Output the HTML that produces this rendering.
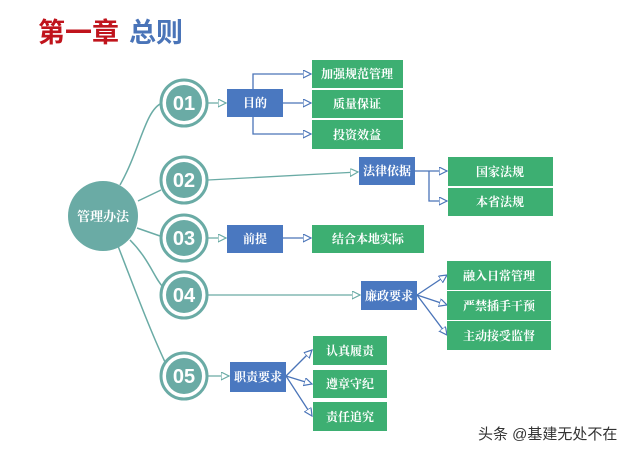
<!DOCTYPE html>
<html><head><meta charset="utf-8"><style>
body{margin:0;width:640px;height:453px;background:#fff;overflow:hidden}
svg{display:block}
text{font-family:"Liberation Serif","Noto Serif CJK SC",serif;font-weight:bold}
</style></head><body>
<svg width="640" height="453" viewBox="0 0 640 453">
<defs>
<marker id="a" markerWidth="10" markerHeight="10" refX="8" refY="4" orient="auto" markerUnits="userSpaceOnUse">
<path d="M0,0 L8,4 L0,8 Z" fill="#fff" stroke="#4a74b8" stroke-width="1.2"/></marker>
<marker id="t" markerWidth="10" markerHeight="10" refX="8" refY="4" orient="auto" markerUnits="userSpaceOnUse">
<path d="M0,0 L8,4 L0,8 Z" fill="#fff" stroke="#6aaba5" stroke-width="1.2"/></marker>
</defs>
<text x="38" y="42" font-family="'Liberation Sans','Noto Sans CJK SC',sans-serif" font-size="27" fill="#c0141c" style="font-family:'Liberation Sans','Noto Sans CJK SC',sans-serif">第一章</text>
<text x="129" y="42" font-size="27" fill="#4a74b8" style="font-family:'Liberation Sans','Noto Sans CJK SC',sans-serif">总则</text>
<g stroke="#6aaba5" stroke-width="1.5" fill="none">
<path d="M120,185 C140,150 145,110 162,103"/>
<path d="M138,201 L161,190"/>
<path d="M137,228 L160,236"/>
<path d="M130,240 C150,260 155,280 164,288"/>
<path d="M118,246 C135,290 150,330 165,362"/>
</g>
<g stroke="#6aaba5" stroke-width="1.3" fill="none">
<line x1="208" y1="103" x2="226" y2="103" marker-end="url(#t)"/>
<line x1="208" y1="180" x2="358" y2="172" marker-end="url(#t)"/>
<line x1="208" y1="238" x2="226" y2="238" marker-end="url(#t)"/>
<line x1="208" y1="295" x2="360" y2="295" marker-end="url(#t)"/>
<line x1="208" y1="376" x2="229" y2="376" marker-end="url(#t)"/>
</g>
<g stroke="#4a74b8" stroke-width="1.3" fill="none">
<path d="M253,89 V74 H311" marker-end="url(#a)"/>
<line x1="283" y1="103" x2="311" y2="103" marker-end="url(#a)"/>
<path d="M253,117 V134 H311" marker-end="url(#a)"/>
<line x1="415" y1="171" x2="447" y2="171" marker-end="url(#a)"/>
<path d="M429,171 V201 H447" marker-end="url(#a)"/>
<line x1="283" y1="238" x2="311" y2="238" marker-end="url(#a)"/>
<line x1="417" y1="295" x2="447" y2="275" marker-end="url(#a)"/>
<line x1="417" y1="295" x2="447" y2="305" marker-end="url(#a)"/>
<line x1="417" y1="295" x2="447" y2="335" marker-end="url(#a)"/>
<line x1="286" y1="376" x2="312" y2="350" marker-end="url(#a)"/>
<line x1="286" y1="376" x2="312" y2="384" marker-end="url(#a)"/>
<line x1="286" y1="376" x2="312" y2="416" marker-end="url(#a)"/>
</g>
<circle cx="103" cy="216" r="35" fill="#6aaba5"/>
<text x="103" y="221" font-size="13" fill="#fff" text-anchor="middle">管理办法</text>
<g font-size="20" fill="#fff" text-anchor="middle">
<g><circle cx="184" cy="103" r="23" fill="#fff" stroke="#6aaba5" stroke-width="3"/><circle cx="184" cy="103" r="18" fill="#6aaba5"/><text x="184" y="110" style="font-family:'Liberation Sans',sans-serif">01</text></g>
<g><circle cx="184" cy="180" r="23" fill="#fff" stroke="#6aaba5" stroke-width="3"/><circle cx="184" cy="180" r="18" fill="#6aaba5"/><text x="184" y="187" style="font-family:'Liberation Sans',sans-serif">02</text></g>
<g><circle cx="184" cy="238" r="23" fill="#fff" stroke="#6aaba5" stroke-width="3"/><circle cx="184" cy="238" r="18" fill="#6aaba5"/><text x="184" y="245" style="font-family:'Liberation Sans',sans-serif">03</text></g>
<g><circle cx="184" cy="295" r="23" fill="#fff" stroke="#6aaba5" stroke-width="3"/><circle cx="184" cy="295" r="18" fill="#6aaba5"/><text x="184" y="302" style="font-family:'Liberation Sans',sans-serif">04</text></g>
<g><circle cx="184" cy="376" r="23" fill="#fff" stroke="#6aaba5" stroke-width="3"/><circle cx="184" cy="376" r="18" fill="#6aaba5"/><text x="184" y="383" style="font-family:'Liberation Sans',sans-serif">05</text></g>
</g>
<g fill="#4a78c0">
<rect x="227" y="89" width="56" height="28"/>
<rect x="359" y="157" width="56" height="28"/>
<rect x="227" y="225" width="56" height="28"/>
<rect x="361" y="281" width="56" height="29"/>
<rect x="230" y="362" width="56" height="30"/>
</g>
<g fill="#3daf72">
<rect x="312" y="60" width="91" height="28"/>
<rect x="312" y="90" width="91" height="28"/>
<rect x="312" y="120" width="91" height="29"/>
<rect x="448" y="157" width="105" height="29"/>
<rect x="448" y="188" width="105" height="28"/>
<rect x="312" y="225" width="112" height="28"/>
<rect x="447" y="261" width="104" height="29"/>
<rect x="447" y="291" width="104" height="29"/>
<rect x="447" y="321" width="104" height="29"/>
<rect x="313" y="336" width="74" height="29"/>
<rect x="313" y="370" width="74" height="28"/>
<rect x="313" y="402" width="74" height="29"/>
</g>
<g font-size="12" fill="#fff" text-anchor="middle">
<text x="255" y="107">目的</text>
<text x="387" y="175">法律依据</text>
<text x="255" y="243">前提</text>
<text x="389" y="300">廉政要求</text>
<text x="258" y="381">职责要求</text>
<text x="357" y="78">加强规范管理</text>
<text x="357" y="108">质量保证</text>
<text x="357" y="139">投资效益</text>
<text x="500" y="176">国家法规</text>
<text x="500" y="206">本省法规</text>
<text x="368" y="243">结合本地实际</text>
<text x="499" y="280">融入日常管理</text>
<text x="499" y="310">严禁插手干预</text>
<text x="499" y="340">主动接受监督</text>
<text x="350" y="355">认真履责</text>
<text x="350" y="388">遵章守纪</text>
<text x="350" y="421">责任追究</text>
</g>
<text x="478" y="439" font-size="15" fill="#333" style="font-family:'Liberation Sans','Noto Sans CJK SC',sans-serif;font-weight:normal">头条 @基建无处不在</text>
</svg>
</body></html>
